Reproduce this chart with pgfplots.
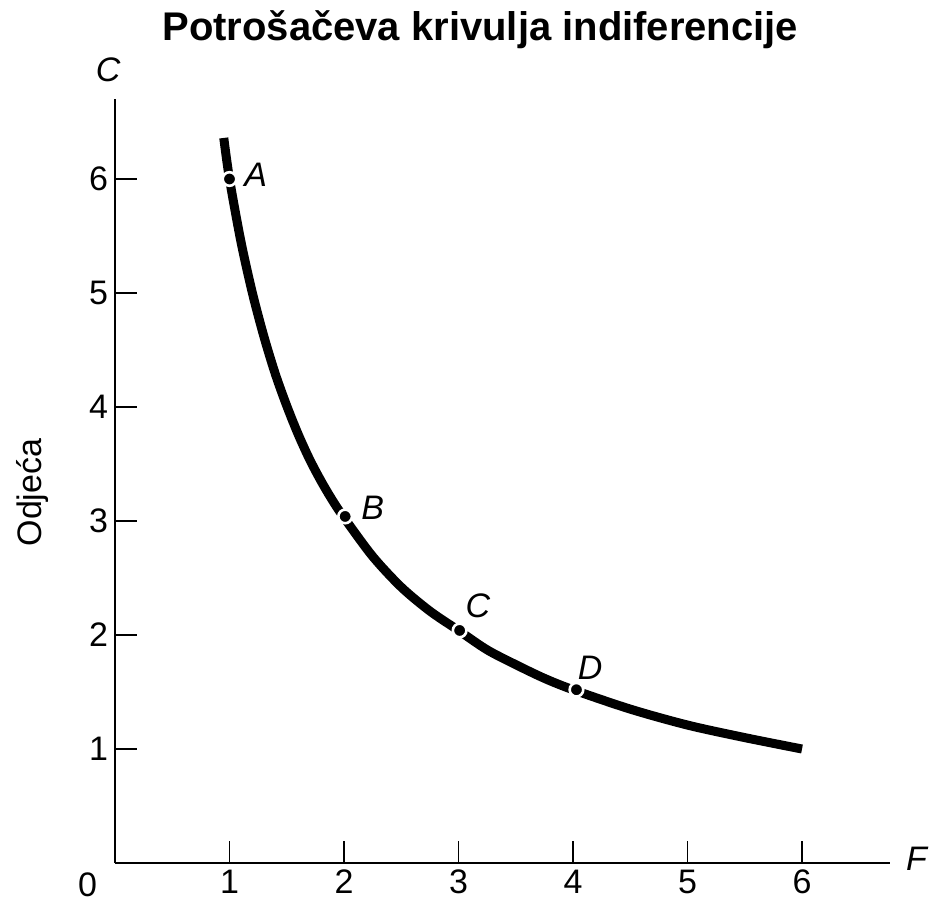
\documentclass[border=0pt]{standalone}
\usepackage{pgfplots}
\pgfplotsset{compat=1.18}
\usepackage{fontspec}
\setmainfont{Liberation Sans}
\begin{document}
\begin{tikzpicture}
\useasboundingbox (-57.5pt,-21.5pt) rectangle (407.5pt,431.5pt);
\begin{axis}[
  anchor=origin, at={(0pt,0pt)},
  x=57.25pt, y=57pt,
  xmin=0, xmax=6.77, ymin=0, ymax=6.7,
  axis lines=left,
  axis line style={-, line width=0.9pt},
  xtick={1,2,3,4,5,6}, ytick={1,2,3,4,5,6},
  tick align=inside,
  major tick length=11pt,
  tick style={line width=0.9pt, black},
  ticklabel style={font=\fontsize{17}{19}\selectfont},
  /pgf/number format/assume math mode=true,
  clip=false,
]
\addplot[line width=4.5pt, smooth, black] coordinates {
 (0.95,6.36) (1.0,6.0) (1.1,5.45) (1.2,5.0) (1.3,4.62) (1.4,4.29) (1.5,4.01)
 (1.6,3.76) (1.7,3.54) (1.8,3.35) (1.9,3.18) (2.0,3.03) (2.25,2.69) (2.5,2.42)
 (2.75,2.21) (3.0,2.04) (3.25,1.87) (3.5,1.74) (3.75,1.62) (4.0,1.52)
 (4.5,1.35) (5.0,1.21) (5.5,1.10) (6.0,1.0)};
\addplot[only marks, mark=*, mark size=3.4pt, mark options={fill=black, draw=white, line width=1.3pt}] coordinates {
 (1.0,6.0) (2.01,3.04) (3.01,2.04) (4.03,1.52)};
\node[font=\fontsize{17}{20}\selectfont\itshape] at (axis cs:1.23,6.04) {A};
\node[font=\fontsize{17}{20}\selectfont\itshape] at (axis cs:2.25,3.12) {B};
\node[font=\fontsize{17}{20}\selectfont\itshape] at (axis cs:3.17,2.26) {C};
\node[font=\fontsize{17}{20}\selectfont\itshape] at (axis cs:4.15,1.71) {D};
\node[font=\fontsize{17}{20}\selectfont\itshape] at (axis cs:-0.06,6.96) {C};
\node[font=\fontsize{17}{20}\selectfont\itshape] at (axis cs:7.0,0.04) {F};
\node[font=\fontsize{17}{19}\selectfont] at (axis cs:-0.24,-0.19) {0};
\node[font=\fontsize{17}{20}\selectfont, rotate=90] at (axis cs:-0.72,3.25) {Odjeća};
\node[font=\fontsize{20}{24}\selectfont\bfseries] at (axis cs:3.19,7.31) {Potrošačeva krivulja indiferencije};
\end{axis}
\end{tikzpicture}
\end{document}
